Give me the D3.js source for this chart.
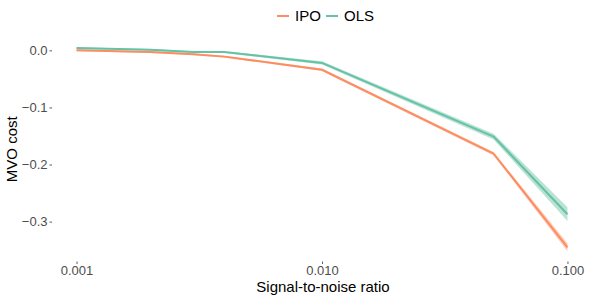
<!DOCTYPE html>
<html>
<head>
	<meta charset="UTF-8">
	<title>MVO cost</title>
	<script src="https://cdn.jsdelivr.net/npm/d3@7"></script>
	<style>
		body { margin: 0; background: #fff; }
		text { font-family: "Liberation Sans", Arial, sans-serif; }
	</style>
</head>
<body>
	<div id="chart"></div>

	<script type="text/javascript">
	// signal-to-noise levels (x)
	var snr = [0.001, 0.002, 0.003, 0.004, 0.01, 0.05, 0.1];

	// mean MVO cost and ribbon bounds per method
	var ipoMean = [0.000, -0.003, -0.007, -0.011, -0.034, -0.181, -0.345];
	var ipoLow  = [-0.0015, -0.0045, -0.0085, -0.0125, -0.036, -0.184, -0.352];
	var ipoHigh = [0.0015, -0.0015, -0.0055, -0.0095, -0.032, -0.178, -0.338];

	var olsMean = [0.004, 0.001, -0.003, -0.003, -0.022, -0.151, -0.287];
	var olsLow  = [0.0025, -0.0005, -0.0045, -0.0045, -0.025, -0.156, -0.299];
	var olsHigh = [0.0055, 0.0025, -0.0015, -0.0015, -0.019, -0.146, -0.275];

	var xTicks = [0.001, 0.01, 0.1];
	var xTickLabels = ["0.001", "0.010", "0.100"];
	var yTicks = [0, -0.1, -0.2, -0.3];
	var yTickLabels = ["0.0", "-0.1", "-0.2", "-0.3"];

	var seriesNames = ["IPO", "OLS"];
	var seriesColors = ["#FC8D62", "#66C2A5"];

	function init_visual()
	{
		var width = 598, height = 299;
		var svg = d3.select("#chart").append("svg")
			.attr("width", width)
			.attr("height", height);

		var left = 52, right = 592, top = 37, bottom = 261.5;

		// 5% padding like ggplot
		var xExt = d3.extent(snr).map(Math.log10);
		var xPad = (xExt[1] - xExt[0]) * 0.05;
		var x = d3.scaleLog()
			.domain([Math.pow(10, xExt[0] - xPad), Math.pow(10, xExt[1] + xPad)])
			.range([left, right]);

		var allY = ipoLow.concat(ipoHigh, olsLow, olsHigh);
		var yMin = d3.min(allY), yMax = d3.max(allY);
		var yPad = (yMax - yMin) * 0.05;
		var y = d3.scaleLinear()
			.domain([yMin - yPad, yMax + yPad])
			.range([bottom, top]);

		// axes
		var xAxis = svg.append("g")
			.attr("transform", "translate(0," + bottom + ")")
			.call(d3.axisBottom(x).tickValues(xTicks)
				.tickFormat(function(d, i) { return xTickLabels[i]; })
				.tickSize(2.5).tickPadding(2));
		var yAxis = svg.append("g")
			.attr("transform", "translate(" + left + ",0)")
			.call(d3.axisLeft(y).tickValues(yTicks)
				.tickFormat(function(d, i) { return yTickLabels[i].replace("-", "\u2212"); })
				.tickSize(2.5).tickPadding(2));

		[xAxis, yAxis].forEach(function(a)
		{
			a.select(".domain").remove();
			a.selectAll(".tick line").attr("stroke", "#333").attr("stroke-width", 0.8);
			a.selectAll(".tick text")
				.attr("fill", "#4D4D4D")
				.style("font-size", "13px")
				.style("font-family", "'Liberation Sans', Arial, sans-serif");
		});

		// ribbons and lines
		var series = [
			{ mean: ipoMean, lo: ipoLow, hi: ipoHigh },
			{ mean: olsMean, lo: olsLow, hi: olsHigh }
		];

		series.forEach(function(s, k)
		{
			var area = d3.area()
				.x(function(d, i) { return x(snr[i]); })
				.y0(function(d, i) { return y(s.lo[i]); })
				.y1(function(d, i) { return y(s.hi[i]); });
			svg.append("path")
				.datum(snr)
				.attr("d", area)
				.attr("fill", seriesColors[k])
				.attr("fill-opacity", 0.45);

			var line = d3.line()
				.x(function(d, i) { return x(snr[i]); })
				.y(function(d) { return y(d); });
			svg.append("path")
				.datum(s.mean)
				.attr("d", line)
				.attr("fill", "none")
				.attr("stroke", seriesColors[k])
				.attr("stroke-width", 2)
				.attr("stroke-linejoin", "round");
		});

		// axis titles
		svg.append("text")
			.attr("x", (left + right) / 2 + 1)
			.attr("y", 292)
			.attr("text-anchor", "middle")
			.style("font-size", "15px")
			.text("Signal-to-noise ratio");

		svg.append("text")
			.attr("transform", "translate(17," + ((top + bottom) / 2) + ") rotate(-90)")
			.attr("text-anchor", "middle")
			.style("font-size", "15px")
			.text("MVO cost");

		// legend
		var legendX = [277, 326];
		seriesNames.forEach(function(name, k)
		{
			svg.append("line")
				.attr("x1", legendX[k]).attr("x2", legendX[k] + 12)
				.attr("y1", 16).attr("y2", 16)
				.attr("stroke", seriesColors[k])
				.attr("stroke-width", 2);
			svg.append("text")
				.attr("x", legendX[k] + 18)
				.attr("y", 21)
				.style("font-size", "15px")
				.text(name);
		});
	}

	init_visual();
	</script>
</body>
</html>
